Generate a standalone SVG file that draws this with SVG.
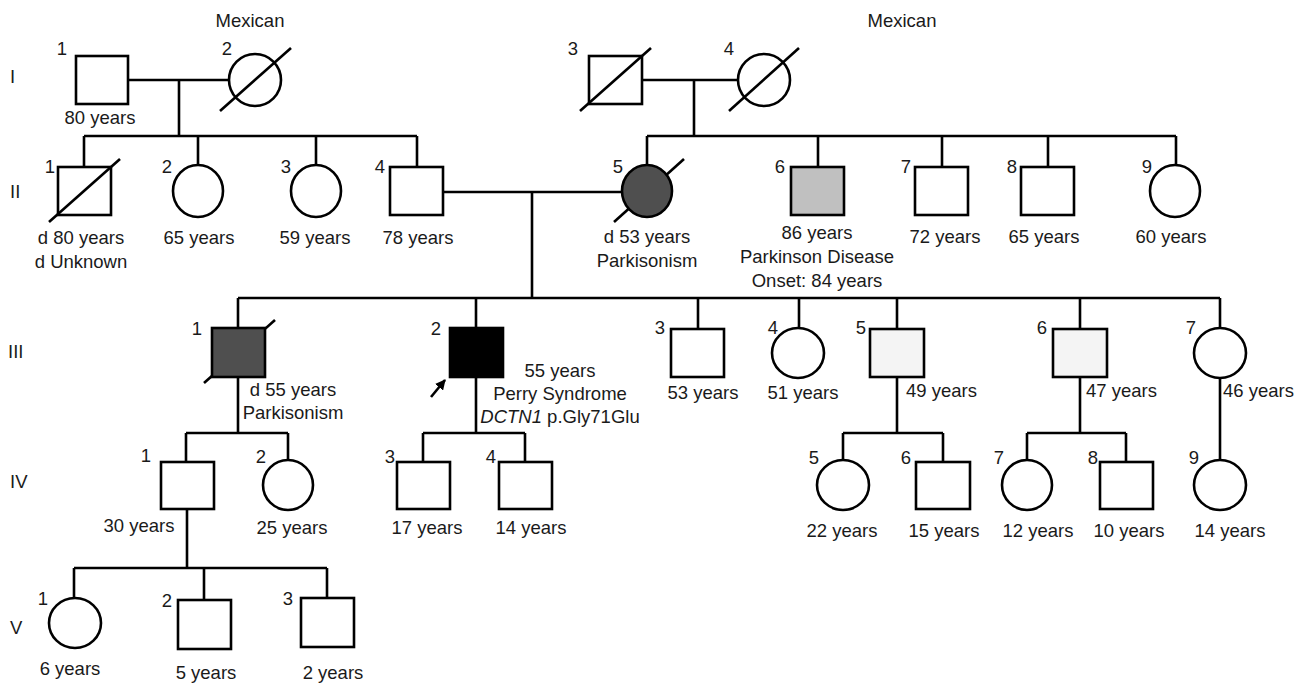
<svg xmlns="http://www.w3.org/2000/svg" width="1311" height="685" viewBox="0 0 1311 685">
<style>
.s{fill:#fff;stroke:#000;stroke-width:2.6}
.d1{fill:#4f4f4f}
.d2{fill:#c0c0c0}
.d3{fill:#f4f4f4}
.b{fill:#000}
.l{fill:none;stroke:#000;stroke-width:2.6}
text{font-family:"Liberation Sans",Arial,sans-serif;font-size:18.5px;fill:#1a1a1a}
.c{text-anchor:middle}
.e{text-anchor:end}
</style>
<defs>
<marker id="ah" viewBox="0 0 10 10" refX="9" refY="5" markerWidth="4" markerHeight="4" orient="auto" markerUnits="strokeWidth">
<path d="M0,0 L10,5 L0,10 z" fill="#000"/>
</marker>
</defs>
<rect width="1311" height="685" fill="#fff"/>
<g id="generations">
<text x="10" y="83">I</text>
<text x="10" y="198">II</text>
<text x="8" y="358">III</text>
<text x="10" y="488">IV</text>
<text x="10" y="634">V</text>
</g>
<g id="connectors">
<path class="l" d="M128,80H229M179,80V136M84,136H417M84,136V167M198,136V165M316,136V165M417,136V167"/>
<path class="l" d="M642,80H738M694,80V136M647,136H1176M647,136V165M818,136V167M942,136V167M1048,136V167M1176,136V165"/>
<path class="l" d="M443,192H622M532,192V298M238,298H1220M238,298V328M476,298V328M698,298V329M799,298V328M897,298V329M1080,298V329M1220,298V328"/>
<path class="l" d="M238,377V433M186,433H288M186,433V462M288,433V460"/>
<path class="l" d="M476,377V433M423,433H525M423,433V462M525,433V462"/>
<path class="l" d="M897,377V433M843,433H943M843,433V460M943,433V462"/>
<path class="l" d="M1080,377V433M1027,433H1126M1027,433V460M1126,433V462"/>
<path class="l" d="M1220,378V460"/>
<path class="l" d="M187,509V568M74,568H327M74,568V598M204,568V600M327,568V598"/>
</g>
<g id="I-1"><rect class="s" x="76" y="56" width="52" height="48"/><text x="62" y="55" class="c">1</text><text x="100" y="124" class="c">80 years</text></g>
<g id="I-2"><ellipse class="s" cx="255" cy="80" rx="26" ry="26"/><path class="l" d="M220,111L291,48"/><text x="227" y="55" class="c">2</text><text x="250" y="27" class="c">Mexican</text></g>
<g id="I-3"><rect class="s" x="589" y="56" width="53" height="48"/><path class="l" d="M580,111L651,48"/><text x="573" y="55" class="c">3</text></g>
<g id="I-4"><ellipse class="s" cx="764" cy="80" rx="26" ry="26"/><path class="l" d="M729,111L799,48"/><text x="729" y="55" class="c">4</text><text x="902" y="27" class="c">Mexican</text></g>
<g id="II-1"><rect class="s" x="58" y="167" width="53" height="48"/><path class="l" d="M49,222L120,159"/><text x="50" y="173" class="c">1</text><text x="81" y="244" class="c">d 80 years</text><text x="81" y="268" class="c">d Unknown</text></g>
<g id="II-2"><ellipse class="s" cx="198" cy="191" rx="25" ry="26"/><text x="167" y="173" class="c">2</text><text x="199" y="244" class="c">65 years</text></g>
<g id="II-3"><ellipse class="s" cx="316" cy="191" rx="25" ry="26"/><text x="286" y="173" class="c">3</text><text x="315" y="244" class="c">59 years</text></g>
<g id="II-4"><rect class="s" x="390" y="167" width="53" height="48"/><text x="380" y="173" class="c">4</text><text x="418" y="244" class="c">78 years</text></g>
<g id="II-5"><path class="l" d="M614,222L684,159"/><ellipse class="s d1" cx="647" cy="191" rx="25" ry="26"/><text x="618" y="173" class="c">5</text><text x="647" y="243" class="c">d 53 years</text><text x="647" y="267" class="c">Parkisonism</text></g>
<g id="II-6"><rect class="s d2" x="791" y="167" width="53" height="48"/><text x="780" y="173" class="c">6</text><text x="817" y="239" class="c">86 years</text><text x="817" y="263" class="c">Parkinson Disease</text><text x="817" y="287" class="c">Onset: 84 years</text></g>
<g id="II-7"><rect class="s" x="915" y="167" width="53" height="48"/><text x="906" y="173" class="c">7</text><text x="945" y="243" class="c">72 years</text></g>
<g id="II-8"><rect class="s" x="1021" y="167" width="53" height="48"/><text x="1012" y="173" class="c">8</text><text x="1044" y="243" class="c">65 years</text></g>
<g id="II-9"><ellipse class="s" cx="1175" cy="191" rx="25" ry="26"/><text x="1147" y="173" class="c">9</text><text x="1171" y="243" class="c">60 years</text></g>
<g id="III-1"><path class="l" d="M204,383L275,320"/><rect class="s d1" x="212" y="328" width="53" height="49"/><text x="197" y="335" class="c">1</text><text x="293" y="396" class="c">d 55 years</text><text x="293" y="419" class="c">Parkisonism</text></g>
<g id="III-2"><rect class="s b" x="450" y="328" width="53" height="49"/><path class="l" d="M431,397L445,380" marker-end="url(#ah)"/><text x="436" y="335" class="c">2</text><text x="560" y="377" class="c">55 years</text><text x="560" y="400" class="c">Perry Syndrome</text><text x="560" y="423" class="c"><tspan font-style="italic">DCTN1</tspan> p.Gly71Glu</text></g>
<g id="III-3"><rect class="s" x="671" y="329" width="53" height="48"/><text x="660" y="334" class="c">3</text><text x="703" y="399" class="c">53 years</text></g>
<g id="III-4"><ellipse class="s" cx="798" cy="353" rx="26" ry="25"/><text x="773" y="334" class="c">4</text><text x="803" y="399" class="c">51 years</text></g>
<g id="III-5"><rect class="s d3" x="870" y="329" width="54" height="48"/><text x="861" y="334" class="c">5</text><text x="906" y="397">49 years</text></g>
<g id="III-6"><rect class="s d3" x="1053" y="329" width="54" height="48"/><text x="1042" y="334" class="c">6</text><text x="1086" y="397">47 years</text></g>
<g id="III-7"><ellipse class="s" cx="1220" cy="353" rx="26" ry="25"/><text x="1191" y="334" class="c">7</text><text x="1223" y="397">46 years</text></g>
<g id="IV-1"><rect class="s" x="161" y="462" width="53" height="47"/><text x="146" y="462" class="c">1</text><text x="139" y="532" class="c">30 years</text></g>
<g id="IV-2"><ellipse class="s" cx="288" cy="485" rx="25" ry="25"/><text x="261" y="463" class="c">2</text><text x="292" y="534" class="c">25 years</text></g>
<g id="IV-3"><rect class="s" x="397" y="462" width="53" height="47"/><text x="390" y="463" class="c">3</text><text x="427" y="534" class="c">17 years</text></g>
<g id="IV-4"><rect class="s" x="499" y="462" width="53" height="47"/><text x="491" y="463" class="c">4</text><text x="531" y="534" class="c">14 years</text></g>
<g id="IV-5"><ellipse class="s" cx="843" cy="485" rx="26" ry="25"/><text x="814" y="464" class="c">5</text><text x="842" y="537" class="c">22 years</text></g>
<g id="IV-6"><rect class="s" x="916" y="462" width="54" height="47"/><text x="906" y="464" class="c">6</text><text x="944" y="537" class="c">15 years</text></g>
<g id="IV-7"><ellipse class="s" cx="1027" cy="485" rx="25" ry="25"/><text x="999" y="464" class="c">7</text><text x="1038" y="537" class="c">12 years</text></g>
<g id="IV-8"><rect class="s" x="1100" y="462" width="53" height="47"/><text x="1093" y="464" class="c">8</text><text x="1129" y="537" class="c">10 years</text></g>
<g id="IV-9"><ellipse class="s" cx="1220" cy="485" rx="26" ry="25"/><text x="1194" y="464" class="c">9</text><text x="1230" y="537" class="c">14 years</text></g>
<g id="V-1"><ellipse class="s" cx="75" cy="623" rx="26" ry="25"/><text x="43" y="605" class="c">1</text><text x="70" y="675" class="c">6 years</text></g>
<g id="V-2"><rect class="s" x="178" y="600" width="53" height="49"/><text x="167" y="607" class="c">2</text><text x="206" y="679" class="c">5 years</text></g>
<g id="V-3"><rect class="s" x="301" y="598" width="53" height="49"/><text x="288" y="605" class="c">3</text><text x="333" y="679" class="c">2 years</text></g>
</svg>
